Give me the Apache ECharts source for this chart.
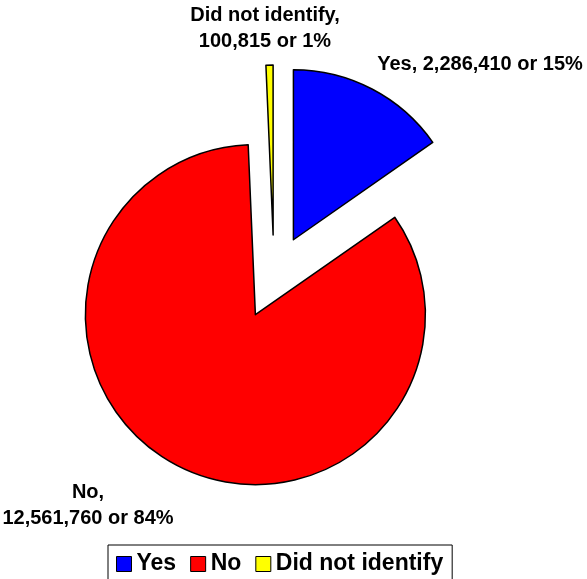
<!DOCTYPE html>
<html>
<head>
<meta charset="utf-8">
<script src="https://cdn.jsdelivr.net/npm/echarts@6/dist/echarts.min.js"></script>
<style>
html,body{margin:0;padding:0;background:#fff;}
#chart{width:587px;height:579px;}
</style>
</head>
<body>
<div id="chart"></div>
<script>
const categories = ['Yes', 'No', 'Did not identify'];
const values = [2286410, 12561760, 100815];
const colors = ['#0000FF', '#FF0000', '#FFFF00'];

// label anchor positions (layout only)
const labelPos = {
  'Yes': [480, 64],
  'No': [88, 505],
  'Did not identify': [265, 28]
};
const labelBreak = { 'Yes': ' ', 'No': '\n', 'Did not identify': '\n' };

const FONT = '"Liberation Sans", Arial, sans-serif';
const total = values.reduce((a, b) => a + b, 0);

const data = categories.map((c, i) => ({
  name: c,
  value: values[i],
  selected: true,
  itemStyle: { color: colors[i] },
  select: { itemStyle: { color: colors[i], borderColor: '#000', borderWidth: 1.5 } }
}));

const labels = categories.map((c, i) => ({
  type: 'text',
  x: labelPos[c][0],
  y: labelPos[c][1],
  silent: true,
  style: {
    text: c + ',' + labelBreak[c] + values[i].toLocaleString('en-US') + ' or ' + Math.round(values[i] / total * 100) + '%',
    fill: '#000',
    fontFamily: FONT,
    fontSize: 20,
    fontWeight: 'bold',
    lineHeight: 26,
    align: 'center',
    verticalAlign: 'middle',
    textAlign: 'center',
    textVerticalAlign: 'middle'
  }
}));

const chart = echarts.init(document.getElementById('chart'), null, { renderer: 'canvas' });
chart.setOption({
  animation: false,
  backgroundColor: '#fff',
  graphic: labels,
  legend: {
    data: categories,
    orient: 'horizontal',
    left: 108,
    top: 545,
    padding: [7, 9, 8, 8],
    itemWidth: 15,
    itemHeight: 15,
    itemGap: 14,
    icon: 'rect',
    borderColor: '#000',
    borderWidth: 1,
    selectedMode: false,
    itemStyle: { borderColor: '#000', borderWidth: 1 },
    textStyle: { fontFamily: FONT, fontSize: 23, fontWeight: 'bold', color: '#000', lineHeight: 24 }
  },
  series: [{
    type: 'pie',
    center: [274, 277],
    radius: [0, 170],
    startAngle: 90,
    clockwise: true,
    selectedMode: 'multiple',
    selectedOffset: 42,
    avoidLabelOverlap: false,
    emphasis: { disabled: true, scale: false },
    itemStyle: { borderColor: '#000', borderWidth: 1.5 },
    label: { show: false },
    labelLine: { show: false },
    data: data
  }]
});
</script>
</body>
</html>
